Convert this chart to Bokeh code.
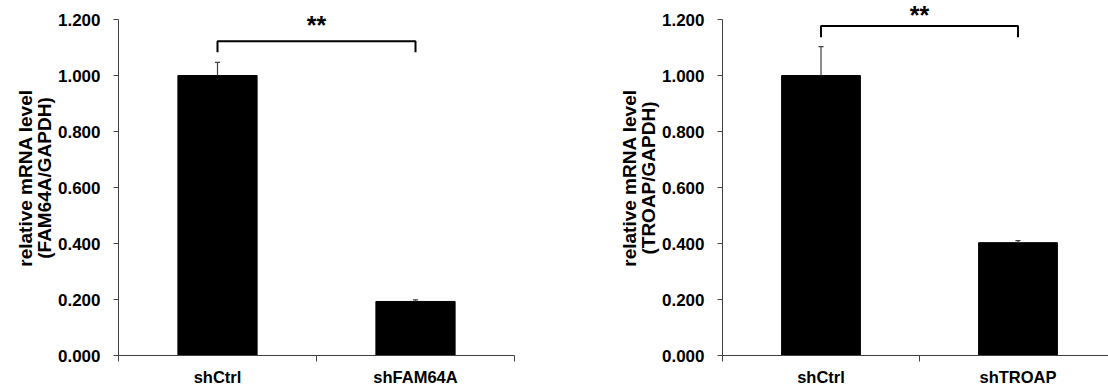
from bokeh.plotting import figure
from bokeh.layouts import row
from bokeh.models import FixedTicker, NumeralTickFormatter, ColumnDataSource, Range1d
from bokeh.core.properties import value
from bokeh.embed import file_html
from bokeh.resources import INLINE

# ---- data ----
cats_a = ["shCtrl", "shFAM64A"]
vals_a = [1.000, 0.193]
errs_a = [0.047, 0.006]
ylabel_a = "relative mRNA level\n(FAM64A/GAPDH)"

cats_b = ["shCtrl", "shTROAP"]
vals_b = [1.000, 0.403]
errs_b = [0.103, 0.007]
ylabel_b = "relative mRNA level\n(TROAP/GAPDH)"

y_ticks = [0.0, 0.2, 0.4, 0.6, 0.8, 1.0, 1.2]
sig_label = "**"

FONT = "Liberation Sans"
AXIS_COLOR = "#404040"


def make_panel(cats, vals, errs, ylabel, width, left, x_end, br_top, br_low, star_y):
    p = figure(width=width, height=389, output_backend="svg", toolbar_location=None,
               x_range=Range1d(0, x_end), y_range=Range1d(0, 355 / 280),
               min_border_left=left, min_border_right=0, min_border_top=0,
               min_border_bottom=34)
    p.background_fill_color = "white"
    p.border_fill_color = "white"
    p.outline_line_color = None
    p.grid.grid_line_color = None

    xs = [i + 0.5 for i in range(len(cats))]
    src = ColumnDataSource(dict(x=xs, top=vals, up=[v + e for v, e in zip(vals, errs)]))
    p.vbar(x="x", top="top", width=0.4, bottom=0, source=src,
           fill_color="black", line_color="black")
    # upper error bars
    p.segment(x0="x", y0="top", x1="x", y1="up", source=src, line_color=AXIS_COLOR, line_width=1.2)
    cap = 0.013
    p.segment(x0=[x - cap for x in xs], y0=src.data["up"], x1=[x + cap for x in xs],
              y1=src.data["up"], line_color=AXIS_COLOR, line_width=1.2)

    # significance bracket
    p.line(x=[xs[0], xs[0], xs[1], xs[1]], y=[br_low, br_top, br_top, br_low],
           line_color="black", line_width=2)
    p.text(x=[(xs[0] + xs[1]) / 2], y=[star_y], text=[sig_label],
           text_align="center", text_baseline="middle",
           text_font=value(FONT), text_font_style="bold", text_font_size="25px",
           text_color="black")

    # y axis
    yax = p.yaxis[0]
    yax.ticker = FixedTicker(ticks=y_ticks, minor_ticks=[])
    yax.formatter = NumeralTickFormatter(format="0.000")
    yax.bounds = (0, 1.2)
    yax.major_tick_in = 0
    yax.major_tick_out = 5
    yax.minor_tick_in = 0
    yax.minor_tick_out = 0
    yax.major_label_standoff = 13
    yax.axis_line_color = AXIS_COLOR
    yax.major_tick_line_color = AXIS_COLOR
    yax.major_label_text_font = FONT
    yax.major_label_text_font_style = "bold"
    yax.major_label_text_font_size = "17px"
    yax.major_label_text_color = "black"
    yax.axis_label = ylabel
    yax.axis_label_text_font = FONT
    yax.axis_label_text_font_style = "bold"
    yax.axis_label_text_font_size = "19px"
    yax.axis_label_text_color = "black"
    yax.axis_label_standoff = 0
    yax.axis_label_text_line_height = 0.9

    # x axis
    xax = p.xaxis[0]
    xax.ticker = FixedTicker(ticks=xs, minor_ticks=list(range(len(cats) + 1)))
    xax.major_label_overrides = {x: c for x, c in zip(xs, cats)}
    xax.bounds = (0, len(cats))
    xax.major_tick_in = 0
    xax.major_tick_out = 0
    xax.minor_tick_in = 0
    xax.minor_tick_out = 6
    xax.minor_tick_line_color = AXIS_COLOR
    xax.axis_line_color = AXIS_COLOR
    xax.major_label_standoff = 6
    xax.major_label_text_font = FONT
    xax.major_label_text_font_style = "bold"
    xax.major_label_text_font_size = "16.5px"
    xax.major_label_text_color = "black"
    return p


p1 = make_panel(cats_a, vals_a, errs_a, ylabel_a, 560, 118, 442 / 198,
                1.122, 1.083, 1.182)
p2 = make_panel(cats_b, vals_b, errs_b, ylabel_b, 548, 162, 386 / 197,
                1.177, 1.137, 1.215)

p = row(p1, p2)
open("out.html", "w").write(file_html(p, INLINE))
